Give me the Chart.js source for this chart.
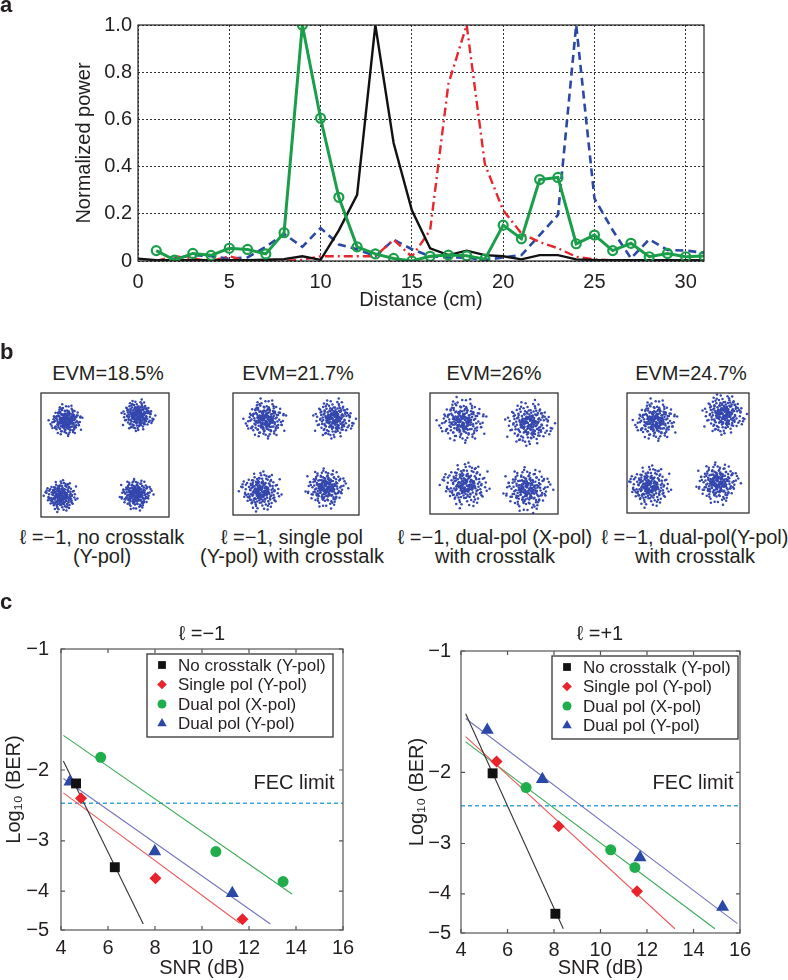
<!DOCTYPE html>
<html>
<head>
<meta charset="utf-8">
<script src="https://cdn.jsdelivr.net/npm/chart.js@4.4.1/dist/chart.umd.min.js"></script>
<style>
body { margin: 0; background: #fff; }
#fig { position: relative; width: 788px; height: 980px; overflow: hidden; font-family: "Liberation Sans", Arial, Helvetica, sans-serif; color: #231f20; }
#fig canvas { position: absolute; }
.t { position: absolute; white-space: nowrap; font-size: 20px; line-height: 19px; text-align: center; transform: translate(-50%, -50%); }
.lbl { position: absolute; font-weight: bold; font-size: 22px; line-height: 22px; }
</style>
</head>
<body>
<div id="fig">
  <canvas id="panelA" width="712" height="312" style="left:0;top:0"></canvas>

  <canvas id="evm0" width="136" height="132" style="left:37px;top:389px"></canvas>
  <canvas id="evm1" width="134" height="130" style="left:229px;top:389px"></canvas>
  <canvas id="evm2" width="136" height="129" style="left:426px;top:389px"></canvas>
  <canvas id="evm3" width="130" height="128" style="left:623px;top:389px"></canvas>

  <canvas id="berLeft" width="360" height="340" style="left:0;top:640px"></canvas>
  <canvas id="berRight" width="388" height="340" style="left:400px;top:640px"></canvas>

  <div class="lbl" style="left:0;top:-6px">a</div>
  <div class="lbl" style="left:0;top:341px">b</div>
  <div class="lbl" style="left:0;top:591px">c</div>

  <div class="t" id="evmTitle0" style="left:108px;top:373px"></div>
  <div class="t" id="evmTitle1" style="left:298px;top:373px"></div>
  <div class="t" id="evmTitle2" style="left:494px;top:373px"></div>
  <div class="t" id="evmTitle3" style="left:691px;top:373px"></div>

  <div class="t" style="left:102px;top:547px">ℓ =−1, no crosstalk<br>(Y-pol)</div>
  <div class="t" style="left:292px;top:547px">ℓ =−1, single pol<br>(Y-pol) with crosstalk</div>
  <div class="t" style="left:495px;top:547px">ℓ =−1, dual-pol (X-pol)<br>with crosstalk</div>
  <div class="t" style="left:695px;top:547px">ℓ =−1, dual-pol(Y-pol)<br>with crosstalk</div>

  <div class="t" style="left:202px;top:633px">ℓ =−1</div>
  <div class="t" style="left:600px;top:633px">ℓ =+1</div>
  <div class="t" style="left:294px;top:782px">FEC limit</div>
  <div class="t" style="left:693px;top:782px">FEC limit</div>
</div>

<script>
// ---- panel a: normalized power vs distance ----
const distance = [0,1,2,3,4,5,6,7,8,9,10,11,12,13,14,15,16,17,18,19,20,21,22,23,24,25,26,27,28,29,30,31];
const greenPower = [null,0.044,0.004,0.032,0.024,0.054,0.049,0.03,0.12,1.0,0.605,0.27,0.06,0.03,0.011,0.0,0.02,0.025,0.022,0.008,0.152,0.094,0.345,0.354,0.073,0.11,0.044,0.075,0.018,0.032,0.018,0.021];
const blackPower = [0.01,0.003,0.003,0.003,0.003,0.003,0.003,0.005,0.008,0.02,0.005,0.13,0.28,1.0,0.5,0.215,0.054,0.025,0.044,0.025,0.02,0.007,0.025,0.025,0.007,0.004,0.003,0.003,0.003,0.003,0.003,0.003];
const redPower = [null,0.0,0.02,0.01,0.0,0.02,0.0,0.0,0.0,0.005,0.02,0.02,0.02,0.02,0.09,0.018,0.13,0.75,1.0,0.41,0.215,0.117,0.08,0.054,0.018,0.007,0.003,0.003,0.003,0.003,0.003,0.003];
const bluePower = [null,0.0,0.01,0.025,0.02,0.01,0.015,0.06,0.115,0.06,0.14,0.07,0.05,0.02,0.09,0.05,0.02,0.015,0.014,0.004,0.015,0.025,0.11,0.195,1.0,0.265,0.13,0.011,0.092,0.047,0.044,0.035];
const distanceTicks = [0,5,10,15,20,25,30];
const powerTicks = [0,0.2,0.4,0.6,0.8,1.0];

// ---- panel b: constellations ----
const evmLabels = ['EVM=18.5%', 'EVM=21.7%', 'EVM=26%', 'EVM=24.7%'];
const evmSpread = [0.21, 0.27, 0.31, 0.29];
const clusterCenterX = [[-1.10, 0.93, -1.24, 0.88], [-0.88, 1.09, -1.01, 0.87], [-0.90, 1.00, -0.81, 0.95], [-0.96, 1.07, -1.14, 0.89]];
const clusterCenterY = [[1.00, 1.14, -1.18, -1.14], [1.03, 1.03, -1.09, -1.00], [0.98, 0.89, -0.93, -1.07], [0.98, 1.16, -0.99, -0.90]];
// noise offsets (in units of the spread) read as a typical cloud
const cloudOffsets = [
  [0.12,-0.83],[-0.45,0.27],[1.03,0.61],[-0.78,-1.14],[0.31,0.05],[-1.52,0.44],[0.66,-0.37],[-0.09,1.28],[1.87,-0.21],[-0.33,-0.58],
  [0.48,0.93],[-1.12,-0.16],[0.05,-1.71],[0.92,0.34],[-0.61,0.79],[1.34,-0.95],[-0.24,0.11],[-2.05,-0.47],[0.77,1.62],[0.18,-0.29],
  [-0.87,0.52],[1.21,0.18],[-0.41,-0.92],[0.59,-1.33],[-1.38,1.07],[0.27,0.66],[2.21,0.39],[-0.15,-0.06],[-0.69,-1.88],[1.02,-0.54],
  [0.36,1.95],[-1.91,-0.72],[0.83,0.08],[-0.52,1.46],[0.14,-0.41],[1.58,1.12],[-0.97,-0.33],[0.44,-0.78],[-0.28,0.63],[-1.26,-1.21],
  [0.71,-0.12],[0.02,0.87],[-0.58,-0.24],[1.44,0.71],[-1.65,0.19],[0.23,-1.05],[0.95,-1.58],[-0.36,0.38],[-0.81,1.84],[1.73,-0.64],
  [0.39,0.22],[-0.12,-1.36],[-1.04,0.96],[0.62,0.49],[0.08,-0.18],[-2.31,0.03],[1.16,1.31],[-0.47,-0.69],[0.54,-0.02],[-0.73,0.14],
  [0.29,-2.12],[1.29,-0.27],[-1.43,-0.88],[-0.2,0.74],[0.87,-0.81],[-0.64,-1.49],[1.95,0.57],[-0.06,0.31],[0.41,1.18],[-1.17,0.58],
  [0.68,0.26],[-0.39,-0.11],[1.1,-1.19],[-0.91,1.23],[0.16,0.46],[-1.79,-1.02],[0.52,-0.49],[0.99,0.83],[-0.26,-0.83],[-0.55,0.06],
  [1.48,-0.08],[0.33,-0.66],[-1.3,0.33],[0.74,2.04],[-0.03,-0.52],[2.02,-1.27],[-0.84,-0.41],[0.21,0.97],[-0.49,2.26],[1.37,0.44],
  [-1.02,-0.61],[0.58,0.13],[-0.17,-0.97],[0.89,1.41],[-1.58,-0.19],[0.11,0.58],[0.46,-0.31],[-0.75,1.01],[1.19,-1.73],[-0.31,0.19]
];

// ---- panel c: log10(BER) vs SNR ----
const seriesNames = ['No crosstalk (Y-pol)', 'Single pol (Y-pol)', 'Dual pol (X-pol)', 'Dual pol (Y-pol)'];
const leftPointSnr = [[4.64, 6.29], [4.85, 8.02, 11.72], [5.69, 10.59, 13.45], [4.38, 7.99, 11.29]];
const leftPointLogBer = [[-2.16, -3.49], [-2.35, -3.72, -4.70], [-1.86, -3.19, -3.79], [-2.14, -3.19, -4.05]];
const leftFitSnr = [[4.10, 7.50], [4.10, 11.61], [4.10, 13.83], [4.10, 12.91]];
const leftFitLogBer = [[-1.90, -4.83], [-2.28, -4.81], [-1.64, -4.07], [-2.10, -4.83]];
const rightPointSnr = [[5.36, 8.06], [5.53, 8.20, 11.57], [6.80, 10.44, 11.48], [5.13, 7.50, 11.70, 15.25]];
const rightPointLogBer = [[-2.01, -4.48], [-1.88, -2.72, -3.94], [-2.18, -3.11, -3.44], [-1.57, -2.08, -3.25, -4.31]];
const rightFitSnr = [[4.2, 8.4], [4.2, 13.2], [4.2, 14.92], [4.2, 15.89]];
const rightFitLogBer = [[-1.43, -4.88], [-1.63, -4.88], [-1.68, -4.88], [-1.47, -4.74]];
const fecLimit = -2.42;
const snrTicks = [4, 6, 8, 10, 12, 14, 16];
const logBerTicks = [-1, -2, -3, -4, -5];

const FONT = '"Liberation Sans", Arial, Helvetica, sans-serif';
Chart.defaults.font.family = FONT;
Chart.defaults.font.size = 20;
Chart.defaults.color = '#231f20';
Chart.defaults.animation = false;

const seriesColors = ['#111111', '#e8232b', '#1fae4b', '#2b48a8'];
const fitColors = ['#333333', '#ec5a5a', '#3aab55', '#7475bd'];
const seriesStyles = ['rect', 'rectRot', 'circle', 'triangle'];
const seriesRadius = [7, 6, 5.5, 7.5];
const legendRadius = [5.5, 4.8, 4.5, 5.5];

// box around the plot area, with optional inward tick marks
const framePlugin = {
    id: 'frame',
    afterDatasetsDraw(chart, args, opts) {
        const { ctx, chartArea: a } = chart;
        ctx.save();
        ctx.strokeStyle = opts.color || '#000';
        ctx.lineWidth = opts.width || 1;
        ctx.strokeRect(a.left, a.top, a.right - a.left, a.bottom - a.top);
        if (opts.ticks) {
            const len = 4;
            ctx.beginPath();
            chart.scales.x.ticks.forEach(t => {
                const px = chart.scales.x.getPixelForValue(t.value);
                ctx.moveTo(px, a.bottom); ctx.lineTo(px, a.bottom - len);
                ctx.moveTo(px, a.top); ctx.lineTo(px, a.top + len);
            });
            chart.scales.y.ticks.forEach(t => {
                const py = chart.scales.y.getPixelForValue(t.value);
                ctx.moveTo(a.left, py); ctx.lineTo(a.left + len, py);
                ctx.moveTo(a.right, py); ctx.lineTo(a.right - len, py);
            });
            ctx.stroke();
        }
        ctx.restore();
    }
};

// boxed legend inside the plot area (MATLAB style)
const boxLegendPlugin = {
    id: 'boxLegend',
    afterDraw(chart, args, opts) {
        const { ctx, chartArea: a } = chart;
        const left = a.left + opts.offsetX, top = a.top + 5, w = 186, h = 83;
        ctx.save();
        ctx.fillStyle = '#fff';
        ctx.fillRect(left, top, w, h);
        ctx.strokeStyle = '#333';
        ctx.lineWidth = 1.3;
        ctx.strokeRect(left, top, w, h);
        ctx.font = '17px ' + FONT;
        ctx.textBaseline = 'middle';
        seriesNames.forEach((name, i) => {
            const y = top + 11 + i * 19.5;
            ctx.fillStyle = seriesColors[i];
            Chart.helpers.drawPoint(ctx, { pointStyle: seriesStyles[i], radius: legendRadius[i], borderWidth: 0, rotation: 0 }, left + 15, y);
            ctx.fillStyle = '#231f20';
            ctx.fillText(name, left + 31, y + 1);
        });
        ctx.restore();
    }
};

// panel a
const pts = ys => distance.map((x, i) => ({ x, y: ys[i] })).filter(p => p.y !== null);
const dottedGrid = { color: '#333', lineWidth: 1, drawTicks: false };

new Chart(document.getElementById('panelA'), {
    type: 'line',
    data: {
        datasets: [
            { label: 'green', data: pts(greenPower), borderColor: '#1a9e4a', borderWidth: 3, pointRadius: 4.5,
              pointBorderWidth: 2.2, pointBorderColor: '#1a9e4a', pointBackgroundColor: 'rgba(0,0,0,0)' },
            { label: 'black', data: pts(blackPower), borderColor: '#111', borderWidth: 2.4, pointRadius: 0 },
            { label: 'red', data: pts(redPower), borderColor: '#e8262e', borderWidth: 2.4, borderDash: [9, 4, 2, 4], pointRadius: 0 },
            { label: 'blue', data: pts(bluePower), borderColor: '#2c48a4', borderWidth: 2.6, borderDash: [8, 5], pointRadius: 0 }
        ]
    },
    options: {
        responsive: false,
        events: [],
        plugins: { legend: { display: false }, tooltip: { enabled: false }, frame: { color: '#222', width: 1.2 } },
        layout: { padding: { top: 25, right: 8, left: 0, bottom: 0 } },
        scales: {
            x: {
                type: 'linear', min: 0, max: 31,
                afterBuildTicks: s => { s.ticks = distanceTicks.map(v => ({ value: v })); },
                afterFit: s => { s.height = 51; },
                ticks: { padding: 9, maxRotation: 0, autoSkip: false },
                grid: dottedGrid,
                border: { display: false, dash: [2, 2] },
                title: { display: true, text: 'Distance (cm)', padding: { bottom: 0, top: 0 } }
            },
            y: {
                min: 0, max: 1,
                afterBuildTicks: s => { s.ticks = powerTicks.map(v => ({ value: v })); },
                afterFit: s => { s.width = 138; },
                ticks: { padding: 6, callback: v => v === 0 ? '0' : v.toFixed(1) },
                grid: dottedGrid,
                border: { display: false, dash: [2, 2] },
                title: { display: true, text: 'Normalized power', padding: { top: 72 } }
            }
        }
    },
    plugins: [framePlugin]
});

// panel b
evmLabels.forEach((label, k) => {
    document.getElementById('evmTitle' + k).textContent = label;
    const s = evmSpread[k];
    const data = [];
    for (let c = 0; c < 4; c++) {
        const sx = c % 2 ? -1 : 1, sy = c > 1 ? -1 : 1;
        cloudOffsets.forEach(([dx, dy]) => {
            data.push({ x: clusterCenterX[k][c] + sx * dx * s, y: clusterCenterY[k][c] + sy * dy * s });
            data.push({ x: clusterCenterX[k][c] + sy * dy * s * 0.85, y: clusterCenterY[k][c] - sx * dx * s * 0.85 });
        });
    }
    new Chart(document.getElementById('evm' + k), {
        type: 'scatter',
        data: { datasets: [{ data, pointRadius: 1.25, pointBorderWidth: 0, backgroundColor: '#3447ad' }] },
        options: {
            responsive: false,
            events: [],
            plugins: { legend: { display: false }, tooltip: { enabled: false }, frame: { color: '#333', width: 1.3 } },
            layout: { padding: 0 },
            scales: {
                x: { display: false, min: -1.8, max: 1.8 },
                y: { display: false, min: -1.8, max: 1.8 }
            }
        },
        plugins: [framePlugin]
    });
});

// panel c
function makeBerChart(id, pSnr, pBer, fSnr, fBer, lay) {
    const datasets = [];
    seriesNames.forEach((name, i) => {
        datasets.push({
            label: name, order: 0, showLine: false,
            data: pSnr[i].map((x, j) => ({ x, y: -pBer[i][j] })),
            pointStyle: seriesStyles[i], pointRadius: seriesRadius[i],
            pointBackgroundColor: seriesColors[i], pointBorderWidth: 0
        });
        datasets.push({
            label: name + ' fit', order: 1, showLine: true,
            data: fSnr[i].map((x, j) => ({ x, y: -fBer[i][j] })),
            borderColor: fitColors[i], borderWidth: 1.1, pointRadius: 0
        });
    });
    datasets.push({
        label: 'FEC limit', order: 2, showLine: true,
        data: [{ x: snrTicks[0], y: -fecLimit }, { x: snrTicks[snrTicks.length - 1], y: -fecLimit }],
        borderColor: '#3ca6dc', borderWidth: 1.5, borderDash: [4, 3], pointRadius: 0
    });

    new Chart(document.getElementById(id), {
        type: 'scatter',
        data: { datasets },
        options: {
            responsive: false,
            events: [],
            plugins: {
                legend: { display: false }, tooltip: { enabled: false },
                frame: { color: '#555', width: 1.2, ticks: true },
                boxLegend: { offsetX: lay.legendX }
            },
            layout: { padding: { top: lay.top, right: lay.right, left: 0, bottom: 0 } },
            scales: {
                x: {
                    type: 'linear', min: 4, max: 16,
                    afterBuildTicks: s => { s.ticks = snrTicks.map(v => ({ value: v })); },
                    afterFit: s => { s.height = lay.xHeight; s.paddingLeft = 0; s.paddingRight = 0; },
                    ticks: { padding: lay.xPad, maxRotation: 0, autoSkip: false },
                    grid: { display: false, drawTicks: false },
                    border: { display: false },
                    title: { display: true, text: 'SNR (dB)', padding: { top: 0, bottom: 0 } }
                },
                y: {
                    type: 'logarithmic', min: 1, max: 5, reverse: true,
                    afterBuildTicks: s => { s.ticks = logBerTicks.map(v => ({ value: -v })); },
                    afterFit: s => { s.width = 61; s.paddingTop = 0; s.paddingBottom = 0; },
                    ticks: { padding: lay.yPad, callback: v => '\u2212' + v },
                    grid: { display: false, drawTicks: false },
                    border: { display: false },
                    title: { display: true, text: 'Log\u2081\u2080 (BER)', padding: { top: lay.yTitlePad } }
                }
            }
        },
        plugins: [framePlugin, boxLegendPlugin]
    });
}

makeBerChart('berLeft', leftPointSnr, leftPointLogBer, leftFitSnr, leftFitLogBer,
    { top: 9, right: 17, xHeight: 50, xPad: 6, yPad: 12, yTitlePad: 2, legendX: 86 });
makeBerChart('berRight', rightPointSnr, rightPointLogBer, rightFitSnr, rightFitLogBer,
    { top: 11, right: 48, xHeight: 47, xPad: 5, yPad: 10, yTitlePad: 5, legendX: 91 });
</script>
</body>
</html>
